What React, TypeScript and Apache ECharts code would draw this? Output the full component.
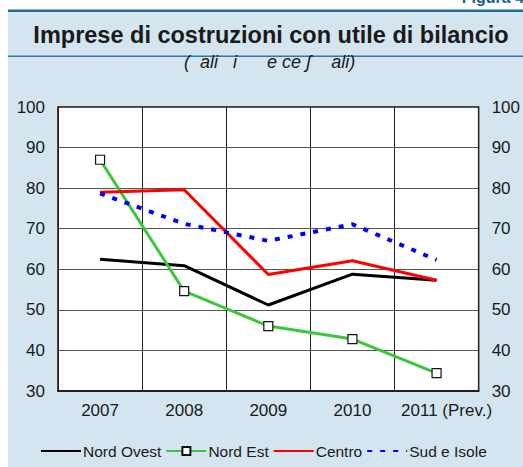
import React, { useEffect, useRef } from "react";
import * as echarts from "echarts";

const categories = ["2007", "2008", "2009", "2010", "2011 (Prev.)"];
const nordOvest = [62.5, 60.9, 51.2, 58.8, 57.3];
const nordEst = [87.0, 54.6, 46.0, 42.8, 34.4];
const centro = [79.0, 79.6, 58.7, 62.1, 57.3];
const sudIsole = [78.7, 71.2, 67.0, 71.1, 62.3];
const yTicks = { min: 30, max: 100, interval: 10 };

const FONT = "'Liberation Sans', Arial, sans-serif";
const S = "\u00a0";

export default function App() {
  const ref = useRef<HTMLDivElement>(null);
  useEffect(() => {
    if (!ref.current) return;
    const chart = echarts.init(ref.current, undefined, { renderer: "svg" });
    const yAxisBase = {
      type: "value" as const,
      min: yTicks.min,
      max: yTicks.max,
      interval: yTicks.interval,
      axisLine: { show: false },
      axisTick: { show: false },
      axisLabel: { fontSize: 17, color: "#1a1a1a", fontFamily: FONT, margin: 13 },
    };
    const subtitle = `(${S}${S}ali${S}${S}${S}i${S}${S}${S}${S}${S}${S}e${S}ce${S}\u0283${S}${S}${S}${S}ali)`;
    chart.setOption({
      animation: false,
      textStyle: { fontFamily: FONT },
      graphic: [
        { type: "rect", z: -10, shape: { x: 0, y: 0, width: 523, height: 467 }, style: { fill: "#ffffff" } },
        { type: "rect", z: -9, shape: { x: 8, y: 11, width: 515, height: 456 }, style: { fill: "#d4e5ef" } },
        { type: "rect", z: -8, shape: { x: 8, y: 9.5, width: 515, height: 2.5 }, style: { fill: "#1f6e95" } },
        { type: "rect", z: -8, shape: { x: 8, y: 55.5, width: 515, height: 1.5 }, style: { fill: "#2a7ca3" } },
        {
          type: "text", z: -8, x: 524, y: -11, style: {
            text: "Figura 4", fill: "#1a5d8c", font: `bold 16px ${FONT}`, textAlign: "right", textVerticalAlign: "top",
          },
        },
        {
          type: "text", x: 271, y: 35, style: {
            text: "Imprese di costruzioni con utile di bilancio", fill: "#1a1a1a",
            font: `bold 23.5px ${FONT}`, textAlign: "center", textVerticalAlign: "middle",
          },
        },
        {
          type: "text", x: 184, y: 62, style: {
            text: subtitle, fill: "#1a1a1a",
            font: `italic 18px ${FONT}`, textAlign: "left", textVerticalAlign: "middle",
          },
        },
      ],
      grid: {
        left: 58, right: 41, top: 107, bottom: 76,
        show: true, backgroundColor: "#ffffff", borderColor: "#111", borderWidth: 1.5,
      },
      legend: {
        left: 40, top: 443, padding: 0,
        itemWidth: 40, itemHeight: 10, itemGap: 4,
        textStyle: { fontSize: 15.5, color: "#1a1a1a", fontFamily: FONT, padding: [0, 0, 0, -3] },
        data: [
          { name: "Nord Ovest", itemStyle: { opacity: 0 } },
          { name: "Nord Est" },
          { name: "Centro", itemStyle: { opacity: 0 } },
          { name: "Sud e Isole", itemStyle: { opacity: 0 } },
        ],
      },
      xAxis: {
        type: "category",
        data: categories,
        boundaryGap: true,
        axisLine: { show: true, lineStyle: { color: "#111", width: 1.5 } },
        axisTick: { show: false },
        splitLine: { show: true, interval: 0, lineStyle: { color: "#222", width: 1 } },
        axisLabel: {
          interval: 0,
          fontSize: 17, color: "#1a1a1a", fontFamily: FONT, margin: 11,
          formatter: (v: string) => (v.indexOf("(") >= 0 ? `{p|${v}}` : v),
          rich: { p: { fontSize: 17, color: "#1a1a1a", fontFamily: FONT, padding: [0, 0, 0, 20] } },
        },
      },
      yAxis: [
        { ...yAxisBase, position: "left", splitLine: { show: true, lineStyle: { color: "#555", width: 1.2 } } },
        { ...yAxisBase, position: "right", splitLine: { show: false } },
      ],
      series: [
        {
          name: "Nord Ovest", type: "line", data: nordOvest, symbol: "none",
          lineStyle: { color: "#000000", width: 3 }, itemStyle: { color: "#000000" },
        },
        {
          name: "Nord Est", type: "line", data: nordEst, symbol: "rect", symbolSize: 9,
          lineStyle: { color: "#3cc63c", width: 3 },
          itemStyle: { color: "#ffffff", borderColor: "#111", borderWidth: 1.2 },
        },
        {
          name: "Centro", type: "line", data: centro, symbol: "none",
          lineStyle: { color: "#ff0000", width: 3 }, itemStyle: { color: "#ff0000" },
        },
        {
          name: "Sud e Isole", type: "line", data: sudIsole, symbol: "none",
          lineStyle: { color: "#0000ff", width: 4, type: [5, 8] }, itemStyle: { color: "#0000ff" },
        },
      ],
    });
    return () => chart.dispose();
  }, []);
  return (
    <div style={{ position: "absolute", left: 0, top: 0, width: 523, height: 467 }}>
      <div ref={ref} style={{ width: 523, height: 467 }} />
    </div>
  );
}
